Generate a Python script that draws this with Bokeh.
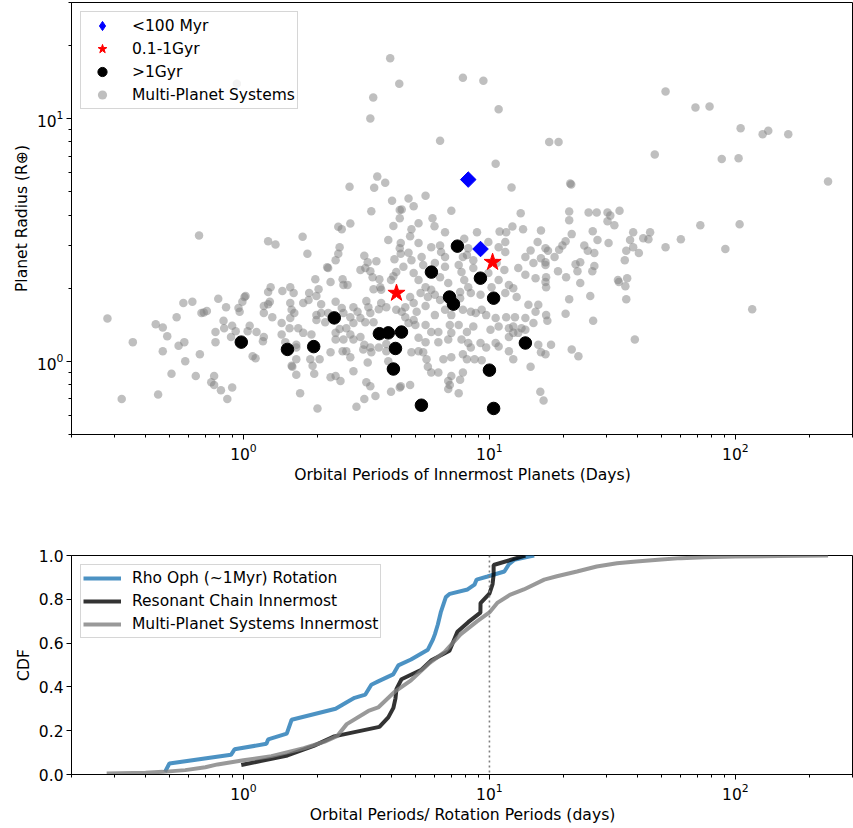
import numpy as np
from bokeh.plotting import figure
from bokeh.layouts import column
from bokeh.models import (FixedTicker, LogTickFormatter, Legend, LegendItem, Span,
                          PrintfTickFormatter)
from bokeh.embed import file_html
from bokeh.resources import INLINE

FONT = "DejaVu Sans"
FS = "15.5px"
FS_LABEL = "15.6px"

# ---------------- data: multi-planet systems (innermost planet) ----------------
multi_period = [
    0.66, 0.28, 0.355, 0.32, 0.45, 0.51, 0.47, 0.49, 0.44, 0.47, 0.535, 0.57, 0.62, 0.675, 0.69, 0.71,
    0.79, 0.85, 0.955, 0.965, 0.99, 1.01, 0.83, 0.835, 0.90, 0.93, 0.77, 0.77, 0.89, 1.06, 1.04, 1.13,
    0.545, 0.575, 0.665, 0.58, 0.64, 0.76, 0.74, 0.76, 0.81, 0.90, 0.86, 1.09, 1.12,
    1.26, 1.35, 1.29, 1.44, 1.55, 1.60, 1.02, 1.21, 1.28, 1.21, 1.31, 1.43, 1.55, 1.57, 1.61, 1.55,
    1.54, 1.43, 1.48, 1.64, 1.21, 1.20, 1.57, 1.64, 1.70,
    3.50, 3.77, 3.40, 2.70, 4.02, 4.32, 3.31, 4.32, 4.07, 2.72, 2.43, 2.51, 1.74, 3.88, 4.36, 4.32,
    2.46, 2.43, 2.37, 1.82, 3.1, 3.2, 3.47, 4.11, 4.36, 2.21, 2.19, 2.99, 3.13, 3.28, 3.35, 3.57,
    4.18, 4.07, 3.98, 1.96, 2.26, 2.53, 2.55, 2.65, 2.02, 1.85, 3.38, 3.6, 3.63,
    1.26, 1.98, 2.37, 1.26, 1.75, 1.84, 2.07, 2.07, 1.98, 1.98, 2.15, 2.21, 2.51, 2.55, 2.80, 2.91,
    3.16, 3.22, 3.28, 3.55, 3.63, 3.81, 4.18, 4.40, 2.72, 2.99, 3.13, 3.38, 2.80, 2.62, 2.46, 2.37,
    2.37, 2.55, 2.72, 2.80, 2.99, 3.10, 3.28, 3.31, 3.07, 3.55, 3.81, 3.81, 1.67, 1.75, 1.89, 1.64,
    1.64, 1.58, 1.87, 2.04, 1.91, 1.94, 2.26, 2.53, 2.62, 2.72, 2.80, 3.20, 2.26, 2.37, 2.48, 3.16,
    3.28, 3.44, 3.10, 2.88, 2.0, 3.98, 4.32, 3.88,
    10.6, 12.3, 5.5, 4.69, 4.92, 4.40, 7.0, 13.4, 5.87, 5.15, 5.98, 4.82, 4.76, 6.6, 8.9, 11.0,
    11.7, 12.4, 13.7, 16.2, 5.15, 5.8, 6.3, 7.9, 8.2, 9.9, 11.6, 15.7, 14.7, 16.9, 4.69, 4.82,
    5.3, 6.36, 6.6, 7.8, 8.1, 10.9, 11.6, 14.0, 15.1, 16.2, 16.9, 4.47, 5.38, 6.0, 6.6, 7.5,
    7.7, 8.6, 8.6, 10.7, 11.5, 13.1, 14.0, 15.4, 16.9, 5.15, 4.92, 6.3, 6.8, 7.9, 8.2, 9.9,
    10.9, 12.0, 12.5, 5.5, 5.8, 7.6, 10.2,
    4.76, 5.25, 5.62, 6.0, 6.3, 7.6, 8.4, 9.2, 11.6, 12.9, 14.4, 15.8, 17.0, 15.4, 4.55, 4.92,
    5.06, 5.5, 6.0, 6.6, 7.0, 7.8, 8.4, 8.8, 9.3, 9.7, 10.6, 11.7, 12.7, 14.0, 15.1, 4.55,
    4.92, 4.69, 5.0, 5.5, 5.8, 6.2, 6.9, 7.5, 8.1, 8.6, 10.1, 10.9, 12.0, 12.5, 13.5, 12.5,
    12.0, 13.1, 14.0, 5.15, 5.5, 6.2, 6.8, 7.0, 7.7, 8.2, 8.4, 9.2, 9.7, 10.6, 10.9, 12.0,
    12.5, 15.8, 16.2, 14.7, 4.82, 5.15, 5.38, 5.55, 6.5, 7.0, 7.8, 8.1, 8.7, 9.3, 5.62, 5.8,
    6.2, 7.0, 7.6, 7.8, 6.8, 6.9, 6.8, 7.5, 4.76, 4.36, 16.1,
    47, 88, 103, 238, 21.3, 21.5, 21.1, 21.1, 25.3, 27.3, 30.2, 31.0, 30.2, 32.2, 33.8, 26.3,
    21.6, 38.4, 45, 42.2, 44.3, 37.3, 38.4, 72, 104, 60, 52, 91, 27.5, 30.5, 24.3, 25.1,
    26.7, 36, 40.5, 35.5, 20.4, 19.8, 19.2, 17.3, 18.4, 16.9, 22.4, 23.4, 22.8, 26.7, 26.2, 19.0,
    20.5, 17.0, 17.0, 23.4, 33.3, 36.3, 33.6, 35.7, 21.1, 25.7, 36, 20.4, 17.2, 26.4, 117, 17.8,
    21.6, 23.0, 39, 16.9, 16.6,
    3.95, 7.8, 9.45, 4.3, 0.94, 3.37, 3.28, 10.9, 52, 68.8, 78.5, 105, 129, 136, 164, 17.5,
    19.1, 6.3,
]
multi_radius = [
    3.3, 1.5, 1.2, 0.70, 0.73, 0.89, 1.10, 1.27, 1.42, 1.38, 1.52, 1.74, 1.76, 1.58, 1.59, 1.61,
    1.81, 1.67, 1.66, 1.60, 1.76, 1.84, 1.47, 1.37, 1.40, 1.33, 1.32, 1.20, 1.26, 1.40, 1.33, 1.32,
    1.16, 1.20, 1.07, 1.0, 0.87, 0.87, 0.82, 0.80, 0.76, 0.78, 0.70, 1.05, 1.03,
    3.12, 3.03, 2.02, 1.95, 2.02, 1.91, 1.86, 1.69, 1.76, 1.58, 1.52, 1.44, 1.74, 1.63, 1.58, 1.51,
    1.37, 1.29, 1.20, 1.14, 1.26, 1.21, 0.96, 0.88, 0.74,
    5.76, 5.43, 5.18, 5.23, 4.58, 4.2, 4.15, 3.88, 3.61, 3.69, 3.58, 3.5, 3.26, 3.16, 3.07, 2.92,
    2.95, 2.77, 2.61, 2.77, 2.72, 2.56, 2.58, 2.63, 2.77, 2.42, 2.44, 2.38, 2.42, 2.35, 2.22, 2.18,
    2.33, 2.24, 2.16, 2.18, 2.12, 2.18, 2.06, 2.06, 1.98, 1.91, 1.98, 2.02, 1.97,
    1.93, 1.86, 1.76, 1.72, 1.74, 1.79, 1.72, 1.58, 1.55, 1.48, 1.45, 1.58, 1.66, 1.58, 1.67, 1.60,
    1.77, 1.67, 1.58, 1.64, 1.74, 1.67, 1.63, 1.60, 1.52, 1.51, 1.45, 1.45, 1.44, 1.37, 1.36, 1.31,
    1.23, 1.23, 1.29, 1.23, 1.26, 1.17, 1.14, 1.09, 1.12, 1.14, 1.10, 1.18, 1.37, 1.31, 1.29, 1.17,
    1.02, 0.95, 1.02, 1.02, 0.96, 0.89, 1.09, 1.10, 1.10, 1.04, 0.91, 0.99, 0.86, 0.87, 0.83, 0.82,
    0.79, 0.72, 0.70, 0.65, 0.64, 0.75, 0.78, 1.0,
    6.5, 5.2, 4.8, 4.68, 4.35, 4.22, 4.17, 4.07, 3.88, 3.70, 3.60, 3.50, 3.27, 3.40, 3.40, 3.42,
    3.40, 3.59, 3.50, 3.46, 3.07, 2.95, 3.0, 3.2, 2.92, 3.1, 3.1, 3.1, 2.86, 2.92, 2.80, 2.61,
    2.69, 2.82, 2.69, 2.69, 2.74, 2.95, 2.82, 2.69, 2.54, 2.66, 2.49, 2.45, 2.49, 2.54, 2.45, 2.49,
    2.33, 2.61, 2.42, 2.54, 2.38, 2.42, 2.27, 2.2, 2.12, 2.16, 2.31, 2.22, 2.1, 2.16, 2.02, 2.31,
    2.16, 2.06, 2.0, 2.02, 1.97, 1.93, 2.02,
    1.84, 1.91, 1.84, 1.88, 1.79, 1.82, 1.91, 1.88, 1.91, 1.84, 1.71, 1.71, 1.55, 1.60, 1.67, 1.74,
    1.60, 1.69, 1.55, 1.63, 1.55, 1.63, 1.60, 1.58, 1.63, 1.55, 1.51, 1.52, 1.52, 1.51, 1.44, 1.52,
    1.48, 1.44, 1.41, 1.41, 1.32, 1.32, 1.41, 1.41, 1.32, 1.39, 1.35, 1.39, 1.37, 1.39, 1.37, 1.31,
    1.26, 1.31, 1.35, 1.25, 1.20, 1.20, 1.23, 1.31, 1.23, 1.19, 1.14, 1.19, 1.14, 1.19, 1.15, 1.10,
    1.02, 1.17, 1.09, 0.95, 1.09, 1.10, 1.09, 1.02, 1.02, 1.04, 1.07, 1.02, 1.02, 1.01, 0.95, 0.90,
    0.90, 0.87, 0.84, 0.90, 0.83, 0.80, 0.77, 0.74, 0.80, 0.79, 0.75,
    7.1, 6.8, 6.85, 5.5, 5.4, 5.35, 4.14, 3.81, 4.1, 4.1, 4.1, 3.98, 3.77, 3.63, 4.17, 3.43,
    3.34, 3.40, 3.40, 3.21, 3.18, 3.16, 2.95, 3.63, 3.67, 3.18, 2.95, 2.9, 3.16, 3.07, 3.0, 2.85,
    2.79, 2.85, 2.79, 2.61, 3.12, 3.0, 2.88, 2.85, 2.69, 2.56, 2.51, 2.56, 2.35, 2.47, 2.35, 2.35,
    2.22, 2.22, 2.02, 2.10, 2.16, 2.2, 2.12, 2.04, 1.80, 1.86, 1.80, 1.57, 1.47, 1.47, 1.64, 1.17,
    1.12, 1.05, 1.23, 1.07, 0.69,
    17.7, 14.7, 14.3, 13.9, 13.9, 12.2, 10.0, 10.9, 12.9, 11.1, 11.2, 9.1, 8.6, 8.9, 8.6, 8.0,
    8.0, 8.1,
]

# ---------------- data: resonant-chain systems by age ----------------
young_period = [8.2, 9.2]            # <100 Myr
young_radius = [5.6, 2.9]
mid_period = [4.19, 10.3]            # 0.1-1 Gyr
mid_radius = [1.91, 2.56]
old_period = [0.98, 1.51, 1.93, 2.34, 3.57, 3.88, 4.39, 4.15, 4.07, 5.29,
              5.81, 6.88, 7.14, 7.41, 9.19, 10.0, 10.4, 10.4, 14.0]   # >1 Gyr
old_radius = [1.20, 1.12, 1.15, 1.51, 1.30, 1.31, 1.32, 1.13, 0.93, 0.66,
              2.33, 1.84, 1.72, 2.98, 2.20, 0.92, 1.82, 0.64, 1.19]

# ---------------- data: CDF curves ----------------
rho_oph_x = [0.48, 0.50, 0.89, 0.92, 1.24, 1.26, 1.50, 1.57, 2.37, 2.63, 2.83, 3.13, 3.31, 3.53,
             4.06, 4.26, 4.80, 5.62, 5.89, 6.0, 6.17, 6.34, 6.65, 6.90, 8.15, 8.7, 8.87, 9.82,
             11.5, 12.0, 12.6, 14.5, 15.2]
rho_oph_cdf = [0.012, 0.05, 0.09, 0.115, 0.14, 0.16, 0.187, 0.25, 0.30, 0.33, 0.35, 0.365, 0.41,
               0.425, 0.457, 0.498, 0.525, 0.57, 0.616, 0.64, 0.685, 0.74, 0.81, 0.825, 0.845,
               0.867, 0.89, 0.904, 0.927, 0.96, 0.98, 0.995, 1.0]
multi_cdf_x = [0.278, 0.40, 0.47, 0.58, 0.70, 0.785, 1.0, 1.30, 1.76, 2.14, 2.40, 2.63, 3.22,
               3.53, 4.14, 4.80, 5.72, 6.58, 7.63, 8.93, 10.0, 10.8, 12.1, 13.8, 16.7, 18.8,
               22.7, 27.3, 33, 39.5, 50, 60, 75, 100, 150, 238]
multi_cdf = [0.005, 0.008, 0.012, 0.02, 0.033, 0.046, 0.065, 0.084, 0.12, 0.15, 0.175, 0.23,
             0.29, 0.306, 0.38, 0.43, 0.51, 0.56, 0.64, 0.70, 0.74, 0.785, 0.82, 0.845, 0.89,
             0.905, 0.927, 0.95, 0.965, 0.973, 0.982, 0.988, 0.992, 0.995, 0.998, 1.0]
period_ratio_marker = 10

# resonant-chain innermost CDF from all highlighted systems
chain_sorted = np.sort(np.array(young_period + mid_period + old_period))
chain_cdf = np.arange(1, len(chain_sorted) + 1) / len(chain_sorted)

X_RANGE = (0.2, 302)


def style_axes(p):
    for ax in (p.xaxis[0], p.yaxis[0]):
        ax.axis_label_text_font = FONT
        ax.axis_label_text_font_size = FS_LABEL
        ax.axis_label_text_font_style = "normal"
        ax.axis_label_text_color = "black"
        ax.major_label_text_font = FONT
        ax.major_label_text_font_size = FS
        ax.major_label_text_color = "black"
        ax.axis_line_color = "black"
        ax.major_tick_line_color = "black"
        ax.minor_tick_line_color = "black"
        ax.major_tick_in = 0
        ax.major_tick_out = 5
        ax.minor_tick_in = 0
        ax.minor_tick_out = 3
        ax.axis_label_standoff = 3
        ax.major_label_standoff = 3
    p.xgrid.visible = False
    p.ygrid.visible = False
    p.outline_line_color = "black"
    p.outline_line_alpha = 1.0
    p.background_fill_color = "white"
    p.border_fill_color = "white"


x_minor = [0.2, 0.3, 0.4, 0.5, 0.6, 0.7, 0.8, 0.9, 2, 3, 4, 5, 6, 7, 8, 9,
           20, 30, 40, 50, 60, 70, 80, 90, 200, 300]

# ---------------- top panel ----------------
p1 = figure(x_axis_type="log", y_axis_type="log", x_range=X_RANGE, y_range=(0.5, 30),
            frame_width=782, frame_height=432, min_border_left=71, min_border_right=0,
            min_border_top=2, min_border_bottom=60, output_backend="svg",
            toolbar_location=None)
style_axes(p1)
p1.xaxis.axis_label = "Orbital Periods of Innermost Planets (Days)"
p1.yaxis.axis_label = "Planet Radius (R\u2295)"
p1.xaxis.ticker = FixedTicker(ticks=[1, 10, 100], minor_ticks=x_minor)
p1.yaxis.ticker = FixedTicker(ticks=[1, 10],
                              minor_ticks=[0.5, 0.6, 0.7, 0.8, 0.9, 2, 3, 4, 5, 6, 7, 8, 9, 20, 30])
p1.xaxis.formatter = LogTickFormatter()
p1.yaxis.formatter = LogTickFormatter()

r_multi = p1.scatter(multi_period, multi_radius, size=8.5, marker="circle",
                     fill_color="gray", fill_alpha=0.5, line_color=None)
r_old = p1.scatter(old_period, old_radius, size=12.5, marker="circle",
                   fill_color="black", line_color="black")
r_mid = p1.scatter(mid_period, mid_radius, size=18, marker="star",
                   fill_color="red", line_color="red")
r_young = p1.scatter(young_period, young_radius, size=11, marker="square", angle=np.pi / 4,
                     fill_color="blue", line_color="blue")

# hidden proxy so the legend shows a diamond (legend glyphs ignore marker angle)
leg_young = p1.scatter(young_period, young_radius, marker="diamond", fill_color="blue",
                       line_color="blue", size=10, visible=False)

legend1 = Legend(items=[
    LegendItem(label="<100 Myr", renderers=[leg_young]),
    LegendItem(label="0.1-1Gyr", renderers=[r_mid]),
    LegendItem(label=">1Gyr", renderers=[r_old]),
    LegendItem(label="Multi-Planet Systems", renderers=[r_multi]),
], location="top_left")

# ---------------- bottom panel ----------------
p2 = figure(x_axis_type="log", x_range=X_RANGE, y_range=(0, 1),
            frame_width=782, frame_height=219, min_border_left=71, min_border_right=0,
            min_border_top=61, min_border_bottom=50, output_backend="svg",
            toolbar_location=None)
style_axes(p2)
p2.xaxis.axis_label = "Orbital Periods/ Rotation Periods (days)"
p2.yaxis.axis_label = "CDF"
p2.xaxis.ticker = FixedTicker(ticks=[1, 10, 100], minor_ticks=x_minor)
p2.xaxis.formatter = LogTickFormatter()
p2.yaxis.ticker = FixedTicker(ticks=[0, 0.2, 0.4, 0.6, 0.8, 1.0], minor_ticks=[])
p2.yaxis.formatter = PrintfTickFormatter(format="%.1f")

p2.add_layout(Span(location=period_ratio_marker, dimension="height", line_color="gray",
                   line_dash="2 3", line_width=1.6))

l_rho = p2.line(rho_oph_x, rho_oph_cdf, line_color="#1f77b4", line_alpha=0.8, line_width=4)
l_chain = p2.line(chain_sorted, chain_cdf, line_color="black", line_alpha=0.8, line_width=4)
l_multi = p2.line(multi_cdf_x, multi_cdf, line_color="gray", line_alpha=0.8, line_width=4)

legend2 = Legend(items=[
    LegendItem(label="Rho Oph (~1Myr) Rotation", renderers=[l_rho]),
    LegendItem(label="Resonant Chain Innermost", renderers=[l_chain]),
    LegendItem(label="Multi-Planet Systems Innermost", renderers=[l_multi]),
], location="top_left")

for p, lg, gh, sp in ((p1, legend1, 23, 0), (p2, legend2, 22, 1)):
    lg.label_text_font = FONT
    lg.label_text_font_size = FS
    lg.label_text_color = "black"
    lg.glyph_width = 38
    lg.glyph_height = gh
    lg.spacing = sp
    lg.padding = 2
    lg.margin = 9
    lg.label_standoff = 11
    lg.border_line_color = "#cccccc"
    lg.border_line_alpha = 0.8
    lg.background_fill_alpha = 0.8
    p.add_layout(lg)

layout = column(p1, p2)
open("out.html", "w").write(file_html(layout, INLINE))
